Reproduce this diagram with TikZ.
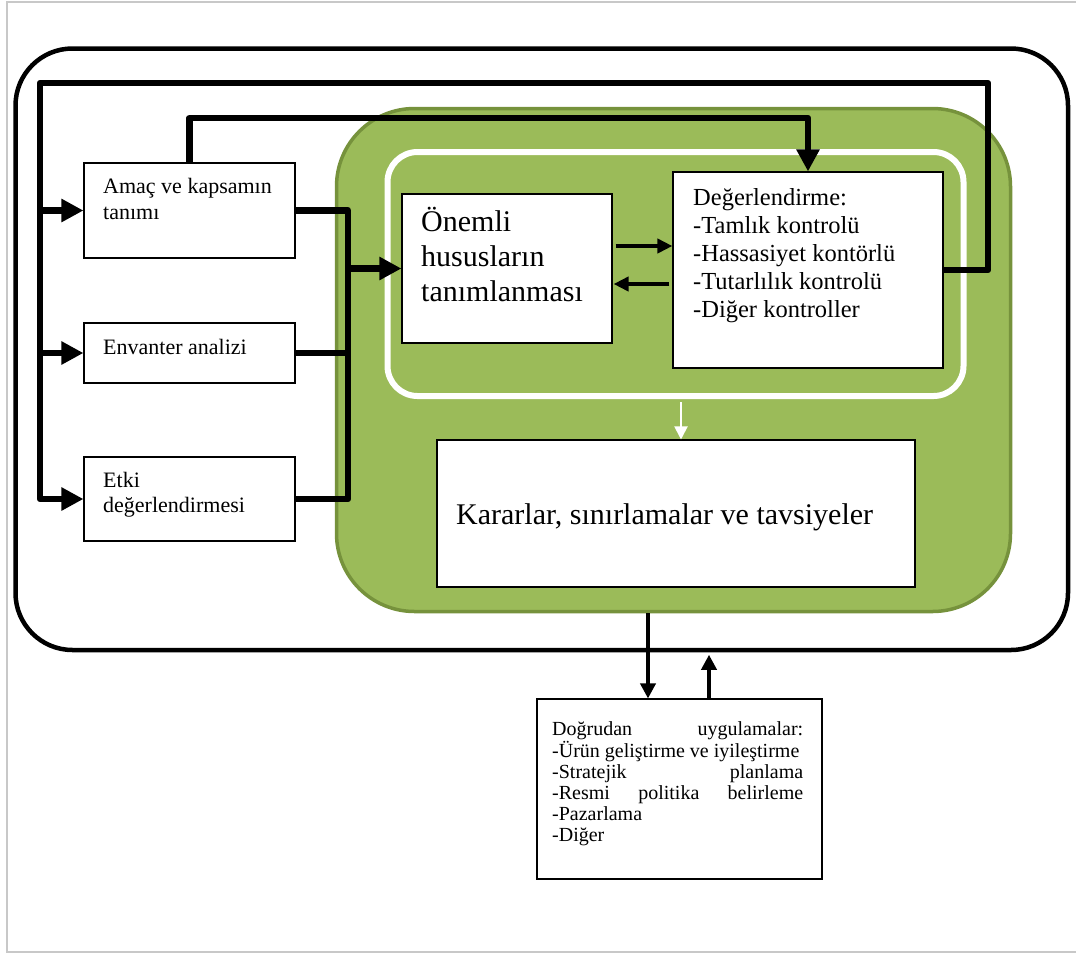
\documentclass[tikz,border=0pt]{standalone}
\usepackage{fontspec}
\setmainfont{Liberation Serif}
\usetikzlibrary{arrows.meta}

\definecolor{leaf}{HTML}{9BBB59}
\definecolor{leafedge}{HTML}{76923C}
\definecolor{framegrey}{HTML}{C8C8C8}

\tikzset{
  box/.style={draw=black, line width=1.1pt, fill=white, inner sep=0pt},
  txt/.style={inner sep=0pt, anchor=base west},
  busline/.style={line width=6.5pt, line join=round},
  bushead/.style={-{Triangle[length=22pt,width=22pt]}},
  midline/.style={line width=3.8pt},
  midhead/.style={-{Triangle[length=15pt,width=14pt]}},
}

\newcommand{\lines}[1]{\begin{tabular}[t]{@{}l@{}}#1\end{tabular}}

\begin{document}
\begin{tikzpicture}[x=1pt,y=-1pt]
\useasboundingbox (0,0) rectangle (1076,954);

% page frame
\draw[framegrey, line width=1.4pt] (1076,2) -- (7,2) -- (7,952) -- (1076,952);

% containers
\node[draw=black, line width=4.5pt, rounded corners=57pt, minimum width=1052.5pt,
      minimum height=601.5pt, inner sep=0pt] (outer) at (541.75,349.25) {};
\node[draw=leafedge, fill=leaf, line width=3.5pt, rounded corners=78pt,
      minimum width=674pt, minimum height=503pt, inner sep=0pt] (green) at (673.5,360) {};
\node[draw=white, line width=6pt, rounded corners=30pt,
      minimum width=576pt, minimum height=244pt, inner sep=0pt] (inner) at (675.5,274) {};

% boxes
\node[box, minimum width=211pt, minimum height=95pt]  (amac)   at (189.5,210.5) {};
\node[box, minimum width=211pt, minimum height=60pt]  (env)    at (189.5,353) {};
\node[box, minimum width=211pt, minimum height=84pt]  (etki)   at (189.5,499) {};
\node[box, minimum width=210pt, minimum height=149pt] (onemli) at (507,268.5) {};
\node[box, minimum width=270pt, minimum height=196pt] (deg)    at (808,270) {};
\node[box, minimum width=478pt, minimum height=147pt] (kar)    at (676,513.5) {};
\node[box, minimum width=285pt, minimum height=180pt] (app)    at (679.5,789) {};

% helper coordinates for connector routes
\coordinate (tr) at (988,83);
\coordinate (tl) at (40,83);
\coordinate (top2) at (0,118);
\coordinate (mx) at (348,0);
\coordinate (ya) at (0,246);
\coordinate (yb) at (0,284);
\coordinate (dx) at (648,0);
\coordinate (ux) at (709,0);
\coordinate (wx) at (681,0);

% feedback loop from the evaluation back to the three stages
\draw[busline, bushead] (deg.east) -- (deg.east -| tr) -- (tr) -- (tl) -- (tl |- etki.west) -- (etki.west);
\draw[busline, bushead] (tl |- amac.west) -- (amac.west);
\draw[busline, bushead] (tl |- env.west) -- (env.west);

% loop from goal definition to evaluation
\draw[busline, bushead] (amac.north) -- (amac.north |- top2) -- (deg.north |- top2) -- (deg.north);

% merge of the three stages into the key issues box
\draw[busline] (amac.east) -- (amac.east -| mx) -- (etki.east -| mx) -- (etki.east);
\draw[busline] (env.east) -- (env.east -| mx);
\draw[busline, bushead] (onemli.west -| mx) -- (onemli.west);

% exchange between key issues and evaluation
\draw[midline, midhead, shorten <=3pt] (onemli.east |- ya) -- (deg.west |- ya);
\draw[midline, midhead, shorten <=3pt, shorten >=1pt] (deg.west |- yb) -- (onemli.east |- yb);

% evaluation block to conclusions
\draw[white, line width=2pt, -{Triangle[length=13pt,width=13pt]}, shorten <=3pt]
  (inner.south -| wx) -- (kar.north -| wx);

% conclusions to applications and back
\draw[line width=3.6pt, -{Triangle[length=15pt,width=15pt]}] (green.south -| dx) -- (app.north -| dx);
\draw[line width=3.6pt, -{Triangle[length=15pt,width=15pt]}, shorten >=2.5pt] (app.north -| ux) -- (outer.south -| ux);

% texts
\node[txt, font=\fontsize{22}{26}\selectfont] (amac-t) at (103,193) {\lines{Amaç ve kapsamın\\tanımı}};
\node[txt, font=\fontsize{22}{26}\selectfont] (env-t) at (103,354) {Envanter analizi};
\node[txt, font=\fontsize{22}{25}\selectfont] (etki-t) at (103,487) {\lines{Etki\\değerlendirmesi}};
\node[txt, font=\fontsize{30}{34.7}\selectfont] (onemli-t) at (421,231.7) {\lines{Önemli\\hususların\\tanımlanması}};
\node[txt, font=\fontsize{24.5}{28.2}\selectfont] (deg-t) at (693,205) {\lines{Değerlendirme:\\-Tamlık kontrolü\\-Hassasiyet kontörlü\\-Tutarlılık kontrolü\\-Diğer kontroller}};
\node[txt, font=\fontsize{30}{34}\selectfont] (kar-t) at (456,524) {Kararlar, sınırlamalar ve tavsiyeler};
\node[txt, font=\fontsize{20}{21}\selectfont] (app-t) at (552,735) {\lines{%
  \hbox to 251pt{Doğrudan\hfill uygulamalar:}\\
  -Ürün geliştirme ve iyileştirme\\
  \hbox to 251pt{-Stratejik\hfill planlama}\\
  \hbox to 251pt{-Resmi\hfill politika\hfill belirleme}\\
  -Pazarlama\\
  -Diğer}};
\end{tikzpicture}
\end{document}
